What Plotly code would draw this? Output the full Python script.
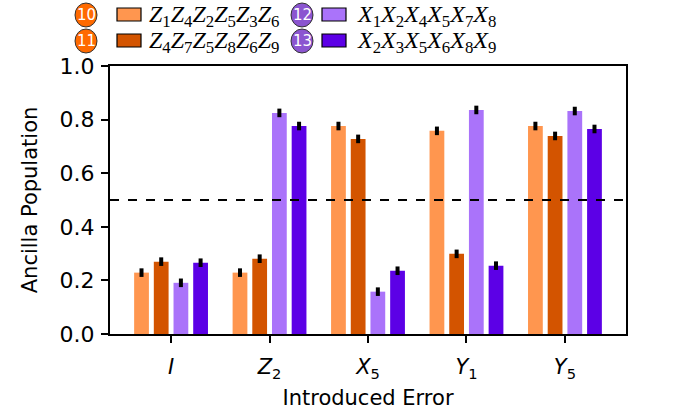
import plotly.graph_objects as go

# Introduced errors (x categories) and measured ancilla populations per stabilizer
errors = ["<i>I</i>", "<i>Z</i><sub>2</sub>", "<i>X</i><sub>5</sub>", "<i>Y</i><sub>1</sub>", "<i>Y</i><sub>5</sub>"]
pop_10 = [0.229, 0.229, 0.776, 0.758, 0.776]
pop_11 = [0.270, 0.281, 0.728, 0.299, 0.739]
pop_12 = [0.191, 0.825, 0.158, 0.836, 0.832]
pop_13 = [0.266, 0.776, 0.236, 0.255, 0.765]
err_10 = [0.016, 0.016, 0.016, 0.016, 0.016]
err_11 = [0.016, 0.016, 0.016, 0.016, 0.016]
err_12 = [0.016, 0.016, 0.016, 0.016, 0.016]
err_13 = [0.016, 0.016, 0.016, 0.016, 0.016]

labels = ["10", "11", "12", "13"]
stabilizers = [
    "<i>Z</i><sub>1</sub><i>Z</i><sub>4</sub><i>Z</i><sub>2</sub><i>Z</i><sub>5</sub><i>Z</i><sub>3</sub><i>Z</i><sub>6</sub>",
    "<i>Z</i><sub>4</sub><i>Z</i><sub>7</sub><i>Z</i><sub>5</sub><i>Z</i><sub>8</sub><i>Z</i><sub>6</sub><i>Z</i><sub>9</sub>",
    "<i>X</i><sub>1</sub><i>X</i><sub>2</sub><i>X</i><sub>4</sub><i>X</i><sub>5</sub><i>X</i><sub>7</sub><i>X</i><sub>8</sub>",
    "<i>X</i><sub>2</sub><i>X</i><sub>3</sub><i>X</i><sub>5</sub><i>X</i><sub>6</sub><i>X</i><sub>8</sub><i>X</i><sub>9</sub>",
]
bar_colors = ["#FF964F", "#D35400", "#AA73FA", "#5C00E6"]
badge_colors = ["#FF6A00", "#FF6A00", "#8B55D0", "#8B55D0"]
threshold = 0.5

W, H = 689, 419
L, R, T, B = 110, 63, 66, 85

fig = go.Figure()
series = [(pop_10, err_10), (pop_11, err_11), (pop_12, err_12), (pop_13, err_13)]
for (vals, errs), col, name in zip(series, bar_colors, labels):
    fig.add_trace(go.Bar(
        x=list(range(len(errors))), y=vals, name=name, marker_color=col,
        marker_line_width=0, showlegend=False,
        error_y=dict(type="data", array=errs, color="black", thickness=4, width=0),
    ))

# pixel -> paper helpers for the hand-built legend above the axes
pw, ph = W - L - R, H - T - B
def px(x):
    return (x - L) / pw
def py(y):
    return (H - B - y) / ph

# dashed 50% threshold across the axes
shapes = [dict(type="line", xref="paper", yref="y", x0=0, x1=1, y0=threshold, y1=threshold,
               line=dict(color="black", width=2, dash="dash"))]
annots = []
cols = [(86, 117, 147), (86, 117, 147), (302, 322, 355), (302, 322, 355)]
rows = [15, 41, 15, 41]
for i in range(4):
    cx, rx, tx = cols[i]
    cy = rows[i]
    shapes.append(dict(type="circle", xref="paper", yref="paper",
                       x0=px(cx - 11), x1=px(cx + 11), y0=py(cy + 12), y1=py(cy - 12),
                       fillcolor=badge_colors[i], line=dict(color="#333333", width=1)))
    annots.append(dict(x=px(cx), y=py(cy), xref="paper", yref="paper", text=labels[i],
                       showarrow=False, font=dict(family="DejaVu Sans", size=15, color="white"),
                       xanchor="center", yanchor="middle"))
    shapes.append(dict(type="rect", xref="paper", yref="paper",
                       x0=px(rx), x1=px(rx + 24), y0=py(cy + 6), y1=py(cy - 7),
                       fillcolor=bar_colors[i], line=dict(color="black", width=1.2)))
    annots.append(dict(x=px(tx), y=py(cy + 1), xref="paper", yref="paper", text=stabilizers[i],
                       showarrow=False, font=dict(family="Liberation Serif", size=24, color="black"),
                       xanchor="left", yanchor="middle"))

fig.update_layout(
    width=W, height=H,
    margin=dict(l=L, r=R, t=T, b=B),
    paper_bgcolor="white", plot_bgcolor="white",
    barmode="group", bargap=0.2, bargroupgap=0.25,
    font=dict(family="DejaVu Sans", size=21, color="black"),
    shapes=shapes, annotations=annots,
)
fig.update_xaxes(
    tickmode="array", tickvals=list(range(len(errors))), ticktext=errors,
    range=[-0.62, 4.62], showline=True, linecolor="black", linewidth=2, mirror=True,
    ticks="outside", ticklen=7, tickwidth=1.5, tickcolor="black", showgrid=False,
    zeroline=False, tickfont=dict(size=21), ticklabelstandoff=6,
    title=dict(text="Introduced Error", font=dict(size=21), standoff=10),
)
fig.update_yaxes(
    range=[0, 1], tickmode="array", tickvals=[0, 0.2, 0.4, 0.6, 0.8, 1.0],
    tickformat=".1f", showline=True, linecolor="black", linewidth=2, mirror=True,
    ticks="outside", ticklen=7, tickwidth=1.5, tickcolor="black", showgrid=False,
    zeroline=False, tickfont=dict(size=22), ticklabelstandoff=2,
    title=dict(text="Ancilla Population", font=dict(size=21), standoff=16),
)

fig.write_html("out.html")
